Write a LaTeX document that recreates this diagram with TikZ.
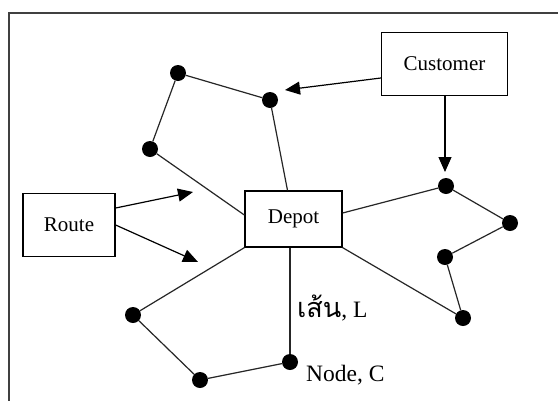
\documentclass[tikz,border=0pt]{standalone}
\usepackage{fontspec}
\setmainfont{Liberation Serif}
\newfontfamily\thaifont[Script=Thai,Scale=1.15]{Loma}
\usetikzlibrary{arrows.meta}
\begin{document}
\begin{tikzpicture}[x=1pt,y=-1pt,
  box/.style={draw,line width=1.3pt,fill=white,inner sep=0pt,font=\fontsize{21}{23}\selectfont},
  dot/.style={circle,fill=black,inner sep=0pt,minimum size=16pt},
  edge/.style={line width=1.2pt,draw=black!85},
  arr/.style={line width=1.2pt,-{Triangle[length=15pt,width=13pt]}},
  lbl/.style={font=\fontsize{23.5}{25}\selectfont,inner sep=0pt,anchor=base west}]
\useasboundingbox (0,0) rectangle (558,400);
\fill[white] (0,0) rectangle (558,400);
\draw[line width=2pt,draw=black!75] (9,402) -- (9,13) -- (560,13);

\node[box,minimum width=126pt,minimum height=63pt] (cust) at (444.5,64) {Customer};
\node[box,minimum width=92pt,minimum height=63pt] (route) at (69,225) {Route};
\node[box,minimum width=97pt,minimum height=56pt] (depot) at (293.5,219) {Depot};

\node[dot] (A) at (178,73) {};
\node[dot] (B) at (270,100) {};
\node[dot] (C) at (150,149) {};
\node[dot] (D) at (446,186) {};
\node[dot] (E) at (510,223) {};
\node[dot] (F) at (445,257) {};
\node[dot] (G) at (463,318) {};
\node[dot] (H) at (133,315) {};
\node[dot] (I) at (200,380) {};
\node[dot] (J) at (290,362) {};

\draw[edge] (B) -- (A) -- (C) -- ([yshift=4pt]depot.west);
\draw[edge] (B) -- ([xshift=-6pt]depot.north);
\draw[edge] ([yshift=6pt]depot.east) -- (D) -- (E) -- (F) -- (G) -- (depot.south east);
\draw[edge] (depot.south west) -- (H) -- (I) -- (J);
\draw[edge] (depot.south -| J) -- (J);

\coordinate (t1) at (285,90);
\coordinate (t2) at (445,172);
\coordinate (t3) at (193,192);
\coordinate (t4) at (198,262);
\draw[arr] ([yshift=-14pt]cust.west) -- (t1);
\draw[arr] (cust.south -| t2) -- (t2);
\draw[arr] ([yshift=17pt]route.east) -- (t3);
\draw[arr] (route.east) -- (t4);

\node[lbl] (L) at (297,317) {{\thaifont เส้น}, L};
\node[lbl] (N) at (306,381) {Node, C};
\end{tikzpicture}
\end{document}
